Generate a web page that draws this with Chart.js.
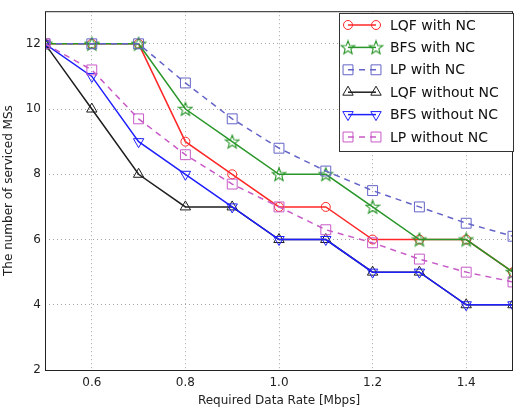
<!DOCTYPE html>
<html>
<head>
<meta charset="utf-8">
<script src="https://cdn.jsdelivr.net/npm/chart.js@4"></script>
<style>
  html, body { margin: 0; padding: 0; background: #fff; }
  #wrap { width: 521px; height: 412px; }
</style>
</head>
<body>
<div id="wrap"><canvas id="myChart" width="521" height="412"></canvas></div>
<script>
// data
const rates = [0.5, 0.6, 0.7, 0.8, 0.9, 1.0, 1.1, 1.2, 1.3, 1.4, 1.5];
const lqfWithNC = [12, 12, 12, 9, 8, 7, 7, 6, 6, 6, 5];
const bfsWithNC = [12, 12, 12, 10, 9, 8, 8, 7, 6, 6, 5];
const lpWithNC = [12, 12, 12, 10.8, 9.7, 8.8, 8.1, 7.5, 7.0, 6.5, 6.1];
const lqfWithoutNC = [12, 10, 8, 7, 7, 6, 6, 5, 5, 4, 4];
const bfsWithoutNC = [12, 11, 9, 8, 7, 6, 6, 5, 5, 4, 4];
const lpWithoutNC = [12, 11.2, 9.7, 8.6, 7.7, 7.0, 6.3, 5.9, 5.4, 5.0, 4.7];
const xTicks = [0.6, 0.8, 1.0, 1.2, 1.4];
const yTicks = [2, 4, 6, 8, 10, 12];

const FONT = 'DejaVu Sans';

// hollow 5-point star for the BFS with NC marker
function makeStar(color) {
  const c = document.createElement('canvas');
  c.width = 16; c.height = 16;
  const g = c.getContext('2d');
  g.strokeStyle = color;
  g.lineWidth = 1.1;
  g.beginPath();
  for (let i = 0; i < 10; i++) {
    const r = i % 2 === 0 ? 7 : 3;
    const a = -Math.PI / 2 + i * Math.PI / 5;
    const px = 8 + r * Math.cos(a), py = 8.5 + r * Math.sin(a);
    if (i === 0) g.moveTo(px, py); else g.lineTo(px, py);
  }
  g.closePath();
  g.stroke();
  return c;
}

const toPoints = (vals) => vals.map((v, i) => ({ x: rates[i], y: v }));

const series = [
  { label: 'LQF with NC', data: lqfWithNC, color: 'rgb(255,40,40)', style: 'circle', radius: 4.5, dash: [] },
  { label: 'BFS with NC', data: bfsWithNC, color: 'rgb(40,150,40)', style: makeStar('rgb(40,150,40)'), radius: 6, dash: [] },
  { label: 'LP with NC', data: lpWithNC, color: 'rgb(100,100,200)', style: 'rect', radius: 7, dash: [6, 5] },
  { label: 'LQF without NC', data: lqfWithoutNC, color: 'rgb(30,30,30)', style: 'triangle', radius: 6, dash: [] },
  { label: 'BFS without NC', data: bfsWithoutNC, color: 'rgb(30,30,255)', style: 'triangle', rotation: 180, radius: 6, dash: [] },
  { label: 'LP without NC', data: lpWithoutNC, color: 'rgb(200,90,200)', style: 'rect', radius: 7, dash: [6, 5] },
];

const datasets = series.map((s, i) => ({
  label: s.label,
  data: toPoints(s.data),
  borderColor: s.color,
  backgroundColor: s.color,
  borderWidth: 1.5,
  borderDash: s.dash,
  pointStyle: s.style,
  pointRotation: s.rotation || 0,
  pointRadius: s.radius,
  pointBorderColor: s.color,
  pointBackgroundColor: 'rgba(0,0,0,0)',
  pointBorderWidth: 1,
  tension: 0,
  fill: false,
  order: series.length - i,
}));

// frame round the plot area and a matplotlib-like legend inside it
const framePlugin = {
  id: 'frame',
  afterDatasetsDraw(chart) {
    const { ctx, chartArea: a } = chart;
    ctx.save();
    ctx.strokeStyle = '#222';
    ctx.lineWidth = 1;
    ctx.strokeRect(a.left + 0.5, a.top + 0.5, a.right - a.left - 1, a.bottom - a.top);
    ctx.restore();
  },
  afterDraw(chart) {
    const ctx = chart.ctx;
    const bx = 339, by = 13, bw = 174, bh = 138;
    ctx.save();
    ctx.fillStyle = '#fff';
    ctx.fillRect(bx, by, bw, bh);
    ctx.strokeStyle = '#333';
    ctx.lineWidth = 1;
    ctx.strokeRect(bx + 0.5, by + 0.5, bw, bh);
    series.forEach((s, i) => {
      const y = 25 + i * 22.4;
      ctx.strokeStyle = s.color;
      ctx.lineWidth = 1.5;
      ctx.setLineDash(s.dash);
      ctx.beginPath();
      ctx.moveTo(348, y);
      ctx.lineTo(376, y);
      ctx.stroke();
      ctx.setLineDash([]);
      ctx.lineWidth = 1;
      ctx.fillStyle = 'rgba(0,0,0,0)';
      [348, 376].forEach((px) => {
        Chart.helpers.drawPoint(ctx, {
          pointStyle: s.style, rotation: s.rotation || 0, radius: s.radius, borderWidth: 1,
        }, px, y);
      });
      ctx.fillStyle = '#111';
      ctx.font = '14px "' + FONT + '"';
      ctx.textBaseline = 'middle';
      ctx.textAlign = 'left';
      ctx.fillText(s.label, 390, y + 1);
    });
    ctx.restore();
  },
};

const config = {
  type: 'line',
  data: { datasets: datasets },
  options: {
    responsive: false,
    animation: false,
    layout: { padding: { top: 5, right: 2, left: 0, bottom: 0 } },
    plugins: { legend: { display: false }, tooltip: { enabled: false } },
    scales: {
      x: {
        type: 'linear',
        min: 0.5,
        max: 1.5,
        afterBuildTicks: (scale) => { scale.ticks = xTicks.map((v) => ({ value: v })); },
        afterFit: (scale) => { scale.height = 42; },
        grid: { color: 'rgba(0,0,0,0.35)', lineWidth: 1, drawTicks: false },
        border: { display: false, dash: [1, 3] },
        ticks: {
          color: '#222', padding: 6, maxRotation: 0,
          font: { family: FONT, size: 12 },
          callback: (v) => Number(v).toFixed(1),
        },
        title: {
          display: true, text: 'Required Data Rate [Mbps]', color: '#222',
          font: { family: FONT, size: 12 }, padding: { top: 0, bottom: 4 },
        },
      },
      y: {
        min: 2,
        max: 13,
        afterBuildTicks: (scale) => { scale.ticks = yTicks.map((v) => ({ value: v })); },
        afterFit: (scale) => { scale.width = 45; },
        grid: { color: 'rgba(0,0,0,0.35)', lineWidth: 1, drawTicks: false },
        border: { display: false, dash: [1, 3] },
        ticks: {
          color: '#222', padding: 4,
          font: { family: FONT, size: 12 },
        },
        title: {
          display: true, text: 'The number of serviced MSs', color: '#222',
          font: { family: FONT, size: 12 }, padding: { top: 2, bottom: 0 },
        },
      },
    },
  },
  plugins: [framePlugin],
};

const ctx = document.getElementById('myChart');
const chart = new Chart(ctx, config);
</script>
</body>
</html>
